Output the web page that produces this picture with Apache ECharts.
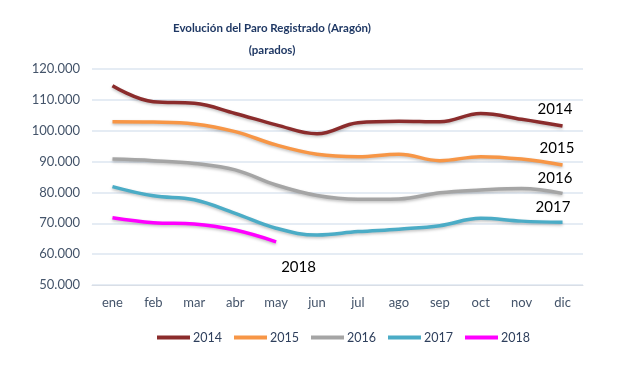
<!DOCTYPE html>
<html><head><meta charset="utf-8">
<script src="https://cdn.jsdelivr.net/npm/echarts@6/dist/echarts.min.js"></script>
<style>html,body{margin:0;padding:0;background:#fff}#c{width:630px;height:369px}</style>
</head><body><div id="c"></div>
<script>
const months = ['ene','feb','mar','abr','may','jun','jul','ago','sep','oct','nov','dic'];
const yTicks = [50000,60000,70000,80000,90000,100000,110000,120000];
const s2014 = [114600,109400,108900,105600,101900,99000,102600,103100,102900,105600,103700,101500];
const s2015 = [102900,102800,102200,99700,95400,92400,91600,92400,90300,91600,90800,88900];
const s2016 = [90800,90300,89400,87300,82400,79000,77800,77900,79900,80800,81300,79700];
const s2017 = [81900,78900,77600,73200,68400,66200,67300,68100,69200,71600,70700,70300];
const s2018 = [71800,70200,69800,67800,64000];
const names = ['2014','2015','2016','2017','2018'];
const colors = ['#8B2C2C','#F79646','#A5A5A5','#4BACC6','#FF00FF'];
const dataSets = [s2014,s2015,s2016,s2017,s2018];
const labelOffsets = [[-33,-17],[-31,-17],[-33,-15],[-35,-15],[-3,25]];
const fmt = v => String(v).replace(/\B(?=(\d{3})+(?!\d))/g,'.');
const chart = echarts.init(document.getElementById('c'));
chart.setOption({
  animation:false,
  title:{text:'Evolución del Paro Registrado (Aragón)\n(parados)',left:267,textAlign:'center',top:12,
    textStyle:{fontFamily:'Lato',fontSize:11.5,fontWeight:'bold',color:'#1F3864',lineHeight:22}},
  legend:{top:326,left:152,itemWidth:33,itemHeight:4,itemGap:12,
    icon:'rect',textStyle:{fontFamily:'Lato',fontSize:12.5,color:'#2E3F5C',padding:[0,0,0,-2]},data:names},
  grid:{left:92,right:47,top:69,bottom:84},
  xAxis:{type:'category',data:months,boundaryGap:true,
    axisLine:{lineStyle:{color:'#D9DEE6'}},axisTick:{show:false},
    axisLabel:{fontFamily:'Lato',fontSize:13,color:'#44546A',margin:11}},
  yAxis:{type:'value',min:50000,max:120000,interval:10000,
    axisLabel:{fontFamily:'Lato',fontSize:13,color:'#44546A',margin:12,formatter:fmt},
    splitLine:{lineStyle:{color:'#DCE6F0',width:1.5}},axisLine:{show:false},axisTick:{show:false}},
  series: dataSets.map((d,i)=>({
    name:names[i],type:'line',data:d,smooth:0.4,symbol:'none',
    lineStyle:{color:colors[i],width:3.5,shadowColor:'rgba(0,0,0,0.25)',shadowBlur:3,shadowOffsetY:1.5},
    itemStyle:{color:colors[i]},
    endLabel:{show:true,formatter:'{a}',offset:labelOffsets[i],
      fontFamily:'Lato',fontSize:15,color:'#000'}
  }))
});
</script></body></html>
